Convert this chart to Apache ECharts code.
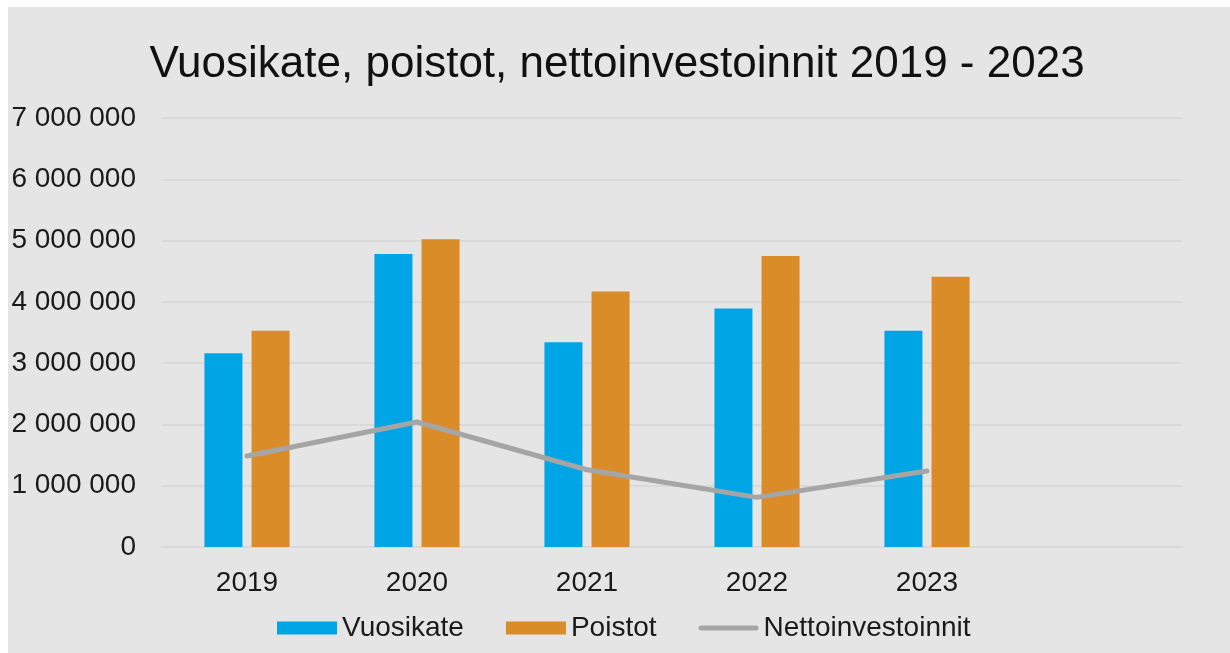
<!DOCTYPE html>
<html>
<head>
<meta charset="utf-8">
<script src="https://cdn.jsdelivr.net/npm/echarts@6/dist/echarts.min.js"></script>
<style>
  html, body { margin: 0; padding: 0; background: #ffffff; width: 1230px; height: 653px; overflow: hidden; }
  #bg { position: absolute; left: 8px; top: 7px; right: 0; bottom: 0; background: #e5e5e5; }
  #chart { position: absolute; left: 0; top: 0; width: 1230px; height: 653px; }
</style>
</head>
<body>
<div id="bg"></div>
<div id="chart"></div>
<script>
const years = ['2019', '2020', '2021', '2022', '2023'];
const categories = years.concat(['']);
const vuosikate = [3160000, 4780000, 3340000, 3890000, 3530000];
const poistot = [3530000, 5020000, 4170000, 4750000, 4410000];
const nettoinvestoinnit = [1485000, 2040000, 1260000, 810000, 1240000];
const yTicks = { min: 0, max: 7000000, interval: 1000000 };

const FONT = '"Liberation Sans", Arial, sans-serif';
const fmt = v => String(v).replace(/\B(?=(\d{3})+(?!\d))/g, ' ');
const lineIcon = 'path://M0,0L0,0M0,13L0,13M2.5,4L57.5,4A2.5,2.5 0 0 1 57.5,9L2.5,9A2.5,2.5 0 0 1 2.5,4Z';

const chart = echarts.init(document.getElementById('chart'), null, { renderer: 'canvas' });
chart.setOption({
  backgroundColor: 'transparent',
  animation: false,
  title: {
    text: 'Vuosikate, poistot, nettoinvestoinnit 2019 - 2023',
    left: 617, top: 43, padding: 0, textAlign: 'center',
    textStyle: { fontFamily: FONT, fontSize: 44, fontWeight: 'normal', color: '#111111' }
  },
  legend: {
    left: 277, top: 614, padding: 0,
    itemWidth: 60, itemHeight: 13, itemGap: 42,
    textStyle: { fontFamily: FONT, fontSize: 28, color: '#1a1a1a' },
    data: [
      { name: 'Vuosikate', icon: 'rect' },
      { name: 'Poistot', icon: 'rect' },
      { name: 'Nettoinvestoinnit', icon: lineIcon, itemStyle: { color: '#a5a5a5' } }
    ]
  },
  grid: { left: 162, right: 48, top: 118, bottom: 106, containLabel: false },
  xAxis: {
    type: 'category',
    data: categories,
    boundaryGap: true,
    axisTick: { show: false },
    axisLine: { show: true, lineStyle: { color: '#d9d9d9', width: 2 } },
    axisLabel: { fontFamily: FONT, fontSize: 28, color: '#1a1a1a', margin: 22 }
  },
  yAxis: {
    type: 'value',
    min: yTicks.min, max: yTicks.max, interval: yTicks.interval,
    axisLine: { show: false },
    axisTick: { show: false },
    splitLine: { lineStyle: { color: '#d9d9d9', width: 2 } },
    axisLabel: { fontFamily: FONT, fontSize: 28, color: '#1a1a1a', margin: 26, formatter: fmt }
  },
  series: [
    {
      name: 'Vuosikate', type: 'bar', data: vuosikate,
      barWidth: 38, barGap: '24%',
      itemStyle: { color: '#00a5e6' }
    },
    {
      name: 'Poistot', type: 'bar', data: poistot,
      barWidth: 38, barGap: '24%',
      itemStyle: { color: '#d98c28' }
    },
    {
      name: 'Nettoinvestoinnit', type: 'line', data: nettoinvestoinnit,
      symbol: 'none', showSymbol: false,
      lineStyle: { color: '#a5a5a5', width: 5, cap: 'round', join: 'round' },
      itemStyle: { color: '#a5a5a5' }
    }
  ]
});
</script>
</body>
</html>
